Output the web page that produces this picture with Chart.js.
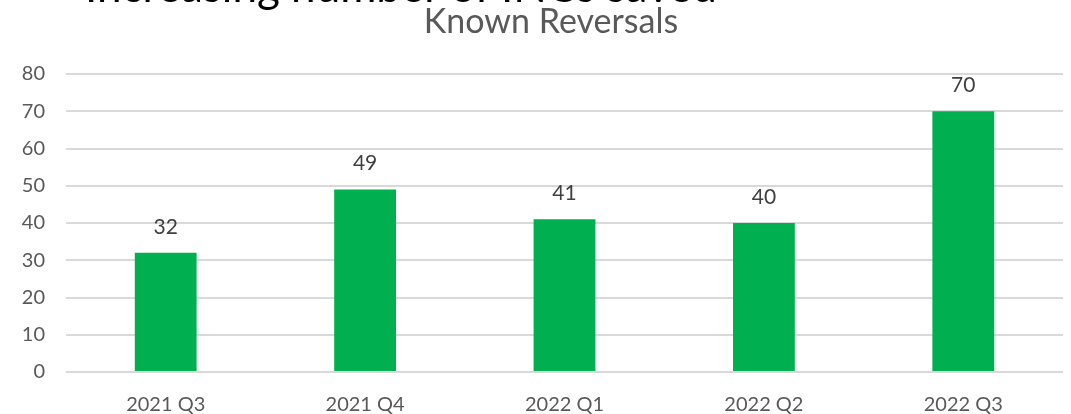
<!DOCTYPE html>
<html>
<head>
<meta charset="utf-8">
<script src="https://cdn.jsdelivr.net/npm/chart.js@4"></script>
<style>
  html, body { margin: 0; padding: 0; background: #fff; overflow: hidden; }
  #wrap { position: relative; width: 1071px; height: 414px; }
  #sup { position: absolute; left: 85px; top: -37px; font-family: Lato, sans-serif; font-size: 44px; color: #000; white-space: nowrap; line-height: 1; }
  canvas { position: absolute; left: 0; top: 0; }
</style>
</head>
<body>
<div id="wrap">
  <canvas id="c" width="1071" height="414"></canvas>
  <div id="sup">Increasing number of INCs saved</div>
</div>
<script>
const categories = ["2021 Q3", "2021 Q4", "2022 Q1", "2022 Q2", "2022 Q3"];
const reversals = [32, 49, 41, 40, 70];
const yTicks = [0, 10, 20, 30, 40, 50, 60, 70, 80];
const chartTitle = "Known Reversals";

const FONT = "Lato, 'Open Sans', sans-serif";

const labelPlugin = {
  id: 'barLabels',
  afterDatasetsDraw(chart) {
    const ctx = chart.ctx;
    const meta = chart.getDatasetMeta(0);
    ctx.save();
    ctx.font = "21px " + FONT;
    ctx.fillStyle = "#404040";
    ctx.textAlign = "center";
    ctx.textBaseline = "middle";
    meta.data.forEach((bar, i) => {
      ctx.fillText(String(reversals[i]), bar.x, bar.y - 26);
    });
    ctx.restore();
  }
};

const titlePlugin = {
  id: 'offsetTitle',
  afterDraw(chart) {
    const ctx = chart.ctx;
    ctx.save();
    ctx.font = "34px " + FONT;
    ctx.fillStyle = "#595959";
    ctx.textAlign = "center";
    ctx.textBaseline = "alphabetic";
    ctx.fillText(chartTitle, 551, 33);
    ctx.restore();
  }
};

new Chart(document.getElementById('c'), {
  type: 'bar',
  data: {
    labels: categories,
    datasets: [{
      data: reversals,
      backgroundColor: '#00B050',
      borderWidth: 0,
      categoryPercentage: 1.0,
      barPercentage: 0.31
    }]
  },
  options: {
    responsive: false,
    animation: false,
    layout: { padding: { left: 0, right: 8, top: 74, bottom: 0 } },
    plugins: {
      legend: { display: false },
      tooltip: { enabled: false },
      title: { display: false }
    },
    scales: {
      x: {
        grid: { display: false, drawTicks: false },
        border: { display: false },
        ticks: { color: '#595959', font: { family: FONT, size: 20 }, padding: 21 },
        afterFit(s) { s.height = 42; }
      },
      y: {
        min: 0, max: 80,
        afterBuildTicks(s) { s.ticks = yTicks.map(v => ({ value: v })); },
        grid: { color: '#D9D9D9', lineWidth: 2, drawTicks: false },
        border: { display: false },
        ticks: { color: '#595959', font: { family: FONT, size: 20 }, padding: 21 },
        afterFit(s) { s.width = 66; }
      }
    }
  },
  plugins: [labelPlugin, titlePlugin]
});
</script>
</body>
</html>
